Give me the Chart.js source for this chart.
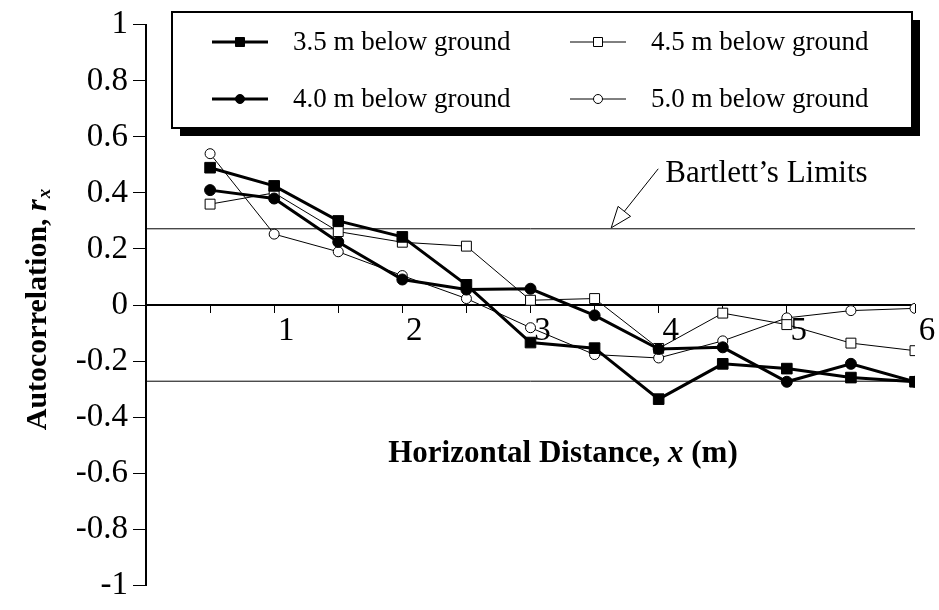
<!DOCTYPE html>
<html lang="en">
<head>
    <meta charset="UTF-8">
    <title>Autocorrelation vs Horizontal Distance</title>
    <style>
        body {
            margin: 0;
            background: #fff;
        }
        #wrap {
            width: 939px;
            height: 610px;
        }
    </style>
    <script src="https://cdn.jsdelivr.net/npm/chart.js"></script>
</head>
<body>
    <div id="wrap"><canvas id="acfChart" width="939" height="610"></canvas></div>

    <script>
        // lag distances (m)
        const distances = [0.5, 1, 1.5, 2, 2.5, 3, 3.5, 4, 4.5, 5, 5.5, 6];

        // autocorrelation at each depth
        const depth35 = [0.49, 0.425, 0.30, 0.243, 0.072, -0.134, -0.154, -0.336, -0.21, -0.227, -0.259, -0.274];
        const depth40 = [0.41, 0.38, 0.225, 0.091, 0.055, 0.058, -0.037, -0.157, -0.151, -0.274, -0.21, -0.274];
        const depth45 = [0.36, 0.40, 0.262, 0.224, 0.21, 0.017, 0.023, -0.155, -0.029, -0.07, -0.136, -0.163];
        const depth50 = [0.54, 0.253, 0.19, 0.105, 0.023, -0.081, -0.177, -0.189, -0.128, -0.046, -0.02, -0.012];

        const seriesLabels = ['3.5 m below ground', '4.0 m below ground', '4.5 m below ground', '5.0 m below ground'];

        // Bartlett's limits (+/-)
        const bartlett = 0.272;
        const limitRange = [0, 6];

        const serif = '"Liberation Serif", "Times New Roman", serif';

        function pts(ys) {
            return ys.map((y, i) => ({ x: distances[i], y: y }));
        }

        function limitLine(v) {
            return {
                data: limitRange.map(x => ({ x: x, y: v })),
                borderColor: '#000',
                borderWidth: 1,
                pointRadius: 0
            };
        }

        // legend box, titles and the Bartlett label
        const extras = {
            id: 'extras',
            afterDraw(chart) {
                const ctx = chart.ctx;
                const xs = chart.scales.x;
                const ys = chart.scales.y;
                ctx.save();

                // legend with drop shadow
                const bx = 172, by = 12, bw = 740, bh = 116;
                ctx.fillStyle = '#000';
                ctx.fillRect(bx + 8, by + 8, bw, bh);
                ctx.fillStyle = '#fff';
                ctx.fillRect(bx, by, bw, bh);
                ctx.lineWidth = 2;
                ctx.strokeStyle = '#000';
                ctx.strokeRect(bx, by, bw, bh);

                const cols = [212, 570];
                const rows = [42, 99];
                ctx.font = '27px ' + serif;
                ctx.textBaseline = 'middle';
                ctx.textAlign = 'left';
                for (let i = 0; i < 4; i++) {
                    const ds = chart.data.datasets[i];
                    const lx = cols[Math.floor(i / 2)];
                    const ly = rows[i % 2];
                    ctx.strokeStyle = '#000';
                    ctx.lineWidth = ds.borderWidth;
                    ctx.beginPath();
                    ctx.moveTo(lx, ly);
                    ctx.lineTo(lx + 56, ly);
                    ctx.stroke();
                    const cx = lx + 28;
                    ctx.lineWidth = 1;
                    ctx.fillStyle = ds.pointBackgroundColor;
                    ctx.beginPath();
                    if (ds.pointStyle === 'rect') {
                        ctx.rect(cx - 4.5, ly - 4.5, 9, 9);
                    } else {
                        ctx.arc(cx, ly, 4.5, 0, Math.PI * 2);
                    }
                    ctx.fill();
                    ctx.stroke();
                    ctx.fillStyle = '#000';
                    ctx.fillText(ds.label, lx + 81, ly + 1);
                }

                // Bartlett's limits arrow
                const tipX = xs.getPixelForValue(3.63);
                const tipY = ys.getPixelForValue(bartlett) - 1;
                const tailX = tipX + 47, tailY = tipY - 59;
                const ang = Math.atan2(tailY - tipY, tailX - tipX);
                const hl = 21, hw = 8;
                const baseX = tipX + Math.cos(ang) * hl, baseY = tipY + Math.sin(ang) * hl;
                const nx = -Math.sin(ang), ny = Math.cos(ang);
                ctx.strokeStyle = '#000';
                ctx.lineWidth = 1;
                ctx.beginPath();
                ctx.moveTo(baseX, baseY);
                ctx.lineTo(tailX, tailY);
                ctx.stroke();
                ctx.beginPath();
                ctx.moveTo(tipX, tipY);
                ctx.lineTo(baseX + nx * hw, baseY + ny * hw);
                ctx.lineTo(baseX - nx * hw, baseY - ny * hw);
                ctx.closePath();
                ctx.fillStyle = '#fff';
                ctx.fill();
                ctx.stroke();
                ctx.fillStyle = '#000';
                ctx.textBaseline = 'alphabetic';
                ctx.font = '31px ' + serif;
                ctx.fillText('Bartlett\u2019s Limits', tipX + 54, 182);

                // x axis title (sits inside the plot)
                const bold = 'bold 31px ' + serif;
                const boldIt = 'italic bold 31px ' + serif;
                const xParts = [['Horizontal Distance, ', bold], ['x', boldIt], [' (m)', bold]];
                let total = 0;
                xParts.forEach(p => { ctx.font = p[1]; total += ctx.measureText(p[0]).width; });
                let px = 563 - total / 2;
                xParts.forEach(p => {
                    ctx.font = p[1];
                    ctx.fillText(p[0], px, 462);
                    px += ctx.measureText(p[0]).width;
                });

                // y axis title, rotated
                ctx.translate(46, 310);
                ctx.rotate(-Math.PI / 2);
                const subFont = 'italic bold 19px ' + serif;
                const yBold = 'bold 30px ' + serif;
                const yBoldIt = 'italic bold 30px ' + serif;
                ctx.font = yBold;
                const w1 = ctx.measureText('Autocorrelation, ').width;
                ctx.font = yBoldIt;
                const w2 = ctx.measureText('r').width;
                ctx.font = subFont;
                const w3 = ctx.measureText('x').width;
                let ty = -(w1 + w2 + w3) / 2;
                ctx.font = yBold;
                ctx.fillText('Autocorrelation, ', ty, 0);
                ty += w1;
                ctx.font = yBoldIt;
                ctx.fillText('r', ty, 0);
                ty += w2 + 1;
                ctx.font = subFont;
                ctx.fillText('x', ty, 4);

                ctx.restore();
            }
        };

        const ctx = document.getElementById('acfChart').getContext('2d');
        new Chart(ctx, {
            type: 'line',
            data: {
                datasets: [
                    {
                        label: seriesLabels[0],
                        data: pts(depth35),
                        borderColor: '#000',
                        borderWidth: 3,
                        pointStyle: 'rect',
                        pointRadius: 7.5,
                        pointBackgroundColor: '#000',
                        pointBorderColor: '#000',
                        pointBorderWidth: 1
                    },
                    {
                        label: seriesLabels[1],
                        data: pts(depth40),
                        borderColor: '#000',
                        borderWidth: 3,
                        pointStyle: 'circle',
                        pointRadius: 5.5,
                        pointBackgroundColor: '#000',
                        pointBorderColor: '#000',
                        pointBorderWidth: 1
                    },
                    {
                        label: seriesLabels[2],
                        data: pts(depth45),
                        borderColor: '#000',
                        borderWidth: 1,
                        pointStyle: 'rect',
                        pointRadius: 7,
                        pointBackgroundColor: '#fff',
                        pointBorderColor: '#000',
                        pointBorderWidth: 1
                    },
                    {
                        label: seriesLabels[3],
                        data: pts(depth50),
                        borderColor: '#000',
                        borderWidth: 1,
                        pointStyle: 'circle',
                        pointRadius: 5,
                        pointBackgroundColor: '#fff',
                        pointBorderColor: '#000',
                        pointBorderWidth: 1
                    },
                    limitLine(bartlett),
                    limitLine(-bartlett)
                ]
            },
            options: {
                responsive: false,
                animation: false,
                layout: {
                    padding: { top: 21, right: 24, bottom: 17, left: 0 }
                },
                elements: {
                    line: { tension: 0 }
                },
                plugins: {
                    legend: { display: false },
                    tooltip: { enabled: false }
                },
                scales: {
                    x: {
                        type: 'linear',
                        min: 0,
                        max: 6,
                        position: { y: 0 },
                        grid: {
                            drawOnChartArea: false,
                            drawTicks: true,
                            tickLength: 7,
                            color: '#000'
                        },
                        border: { display: true, color: '#000', width: 2 },
                        ticks: {
                            stepSize: 0.5,
                            autoSkip: false,
                            maxRotation: 0,
                            labelOffset: 12,
                            padding: 0,
                            color: '#000',
                            font: { family: serif, size: 33 },
                            callback: v => (Number.isInteger(v) && v > 0) ? String(v) : ''
                        }
                    },
                    y: {
                        min: -1,
                        max: 1,
                        grid: {
                            drawOnChartArea: false,
                            drawTicks: true,
                            tickLength: 13,
                            color: '#000'
                        },
                        border: { display: true, color: '#000', width: 2 },
                        ticks: {
                            stepSize: 0.2,
                            padding: 5,
                            color: '#000',
                            font: { family: serif, size: 33 },
                            callback: v => String(Math.round(v * 10) / 10)
                        },
                        afterFit: scale => { scale.width = 146; }
                    }
                }
            },
            plugins: [extras]
        });
    </script>
</body>
</html>
